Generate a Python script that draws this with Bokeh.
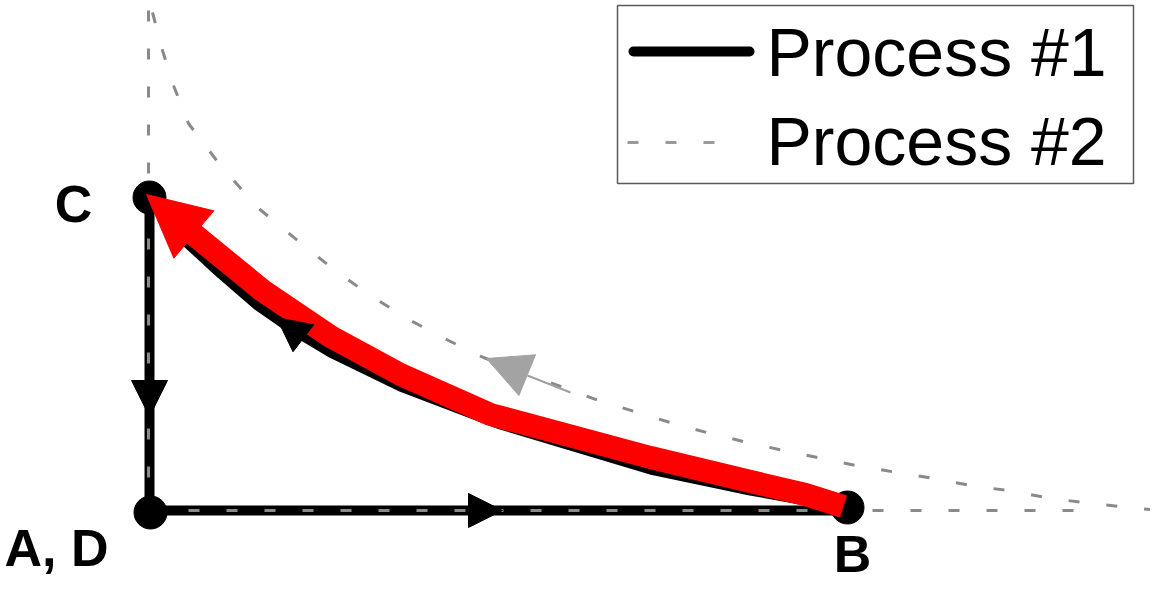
from bokeh.plotting import figure
from bokeh.models import Range1d, Arrow, NormalHead
from bokeh.core.properties import value
from bokeh.embed import file_html
from bokeh.resources import INLINE

# ---------------- data (abstract V / P units) ----------------
# state points
point_names = ["A, D", "B", "C"]
point_v = [150, 847, 149]
point_p = [512, 507, 197]

# Process #1 (solid black): A -> B (isobaric), B -> C (curve), C -> A (isochoric)
p1_ab_v = [150, 845]
p1_ab_p = [510, 510]
p1_bc_v = [845, 800, 750, 650, 500, 400, 330, 290, 257, 220, 183, 149]
p1_bc_p = [507, 499, 490, 469, 424, 386, 352, 328, 305, 273, 239, 198]
p1_ca_v = [149, 149]
p1_ca_p = [198, 512]

# Process #2 (dashed grey)
p2_curve_v = [152, 162, 173, 188, 220, 257, 297, 337, 373, 410, 448, 483, 525, 563, 598,
              637, 673, 710, 747, 783, 822, 860, 897, 933, 970, 1007, 1045, 1082, 1120, 1158]
p2_curve_p = [12, 50, 85, 123, 165, 207, 240, 272, 297, 320, 340, 357, 373, 387, 400,
              412, 423, 433, 442, 450, 458, 466, 472, 478, 485, 490, 497, 502, 506, 510]
p2_vert_v = [148, 148]
p2_vert_p = [10, 512]
p2_horiz_v = [150, 1082]
p2_horiz_p = [510, 510]

# highlighted path (red arrow B -> C)
red_v = [843, 805, 750, 650, 490, 400, 330, 262, 191, 146]
red_p = [506, 494, 481, 457, 414, 374, 336, 290, 232, 194]

# direction arrows: (start_v, start_p, tip_v, tip_p)
black_arrows = [
    (470, 510, 502, 510),   # A -> B
    (149, 380, 149, 416),   # C -> A
    (298, 334, 276, 317),   # B -> C
]
grey_arrow = (530, 376, 486, 358)
grey_arrow_tail = ([570, 527], [392, 375])

legend_labels = ["Process #1", "Process #2"]

# ---------------- figure ----------------
W, H = 1150, 584
p = figure(width=W, height=H, x_range=Range1d(0, W), y_range=Range1d(H, 0),
           output_backend="svg", toolbar_location=None, min_border=0,
           x_axis_location=None, y_axis_location=None)
p.grid.visible = False
p.outline_line_color = None
p.background_fill_color = "white"
p.border_fill_color = "white"

BLACK = "black"
GREY = "#8a8a8a"
RED = "#ff0000"

# Process #1 lines
for xs, ys in [(p1_ab_v, p1_ab_p), (p1_bc_v, p1_bc_p), (p1_ca_v, p1_ca_p)]:
    p.line(xs, ys, line_color=BLACK, line_width=10, line_join="round")

# Process #2 dashed lines
for xs, ys in [(p2_curve_v, p2_curve_p), (p2_vert_v, p2_vert_p), (p2_horiz_v, p2_horiz_p)]:
    p.line(xs, ys, line_color=GREY, line_width=3, line_dash="11 27")

# black direction arrowheads
for (x0, y0, x1, y1), s in zip(black_arrows, [34, 36, 34]):
    p.add_layout(Arrow(x_start=x0, y_start=y0, x_end=x1, y_end=y1, line_alpha=0,
                       end=NormalHead(size=s, fill_color=BLACK, line_color=BLACK, line_width=1)))

# state points
p.scatter(point_v, point_p, size=33, fill_color=BLACK, line_color=BLACK)

# grey direction arrow on process #2
p.line(grey_arrow_tail[0], grey_arrow_tail[1], line_color="#a0a0a0", line_width=2)
p.add_layout(Arrow(x_start=grey_arrow[0], y_start=grey_arrow[1], x_end=grey_arrow[2], y_end=grey_arrow[3],
                   line_alpha=0, end=NormalHead(size=44, fill_color="#a3a3a3", line_color="#a3a3a3", line_width=1)))

# red highlighted path
p.line(red_v[:-1], red_p[:-1], line_color=RED, line_width=23, line_join="round")
p.add_layout(Arrow(x_start=red_v[-2], y_start=red_p[-2], x_end=red_v[-1], y_end=red_p[-1],
                   line_alpha=0, end=NormalHead(size=62, fill_color=RED, line_color=RED, line_width=1)))

# point labels (offsets from the state points)
label_dx = [-94, 5, -76]
label_dy = [35, 46, 6]
p.text([v + d for v, d in zip(point_v, label_dx)], [pp + d for pp, d in zip(point_p, label_dy)],
       text=point_names, text_font=value("Liberation Sans"), text_font_style="bold",
       text_font_size="52px", text_align="center", text_baseline="middle", text_color=BLACK)

# legend (drawn manually)
p.quad(left=[617], right=[1133], top=[5], bottom=[183], fill_color="white",
       line_color="#5a5a5a", line_width=1.5)
p.line([633, 749], [51, 51], line_color=BLACK, line_width=10, line_cap="round")
p.line([627, 718], [142, 142], line_color="#9a9a9a", line_width=3, line_dash="11 27")
p.text([766, 766], [51, 140], text=legend_labels, text_font=value("Liberation Sans"),
       text_font_size="68px", text_align="left", text_baseline="middle", text_color=BLACK)

open("out.html", "w").write(file_html(p, INLINE))
